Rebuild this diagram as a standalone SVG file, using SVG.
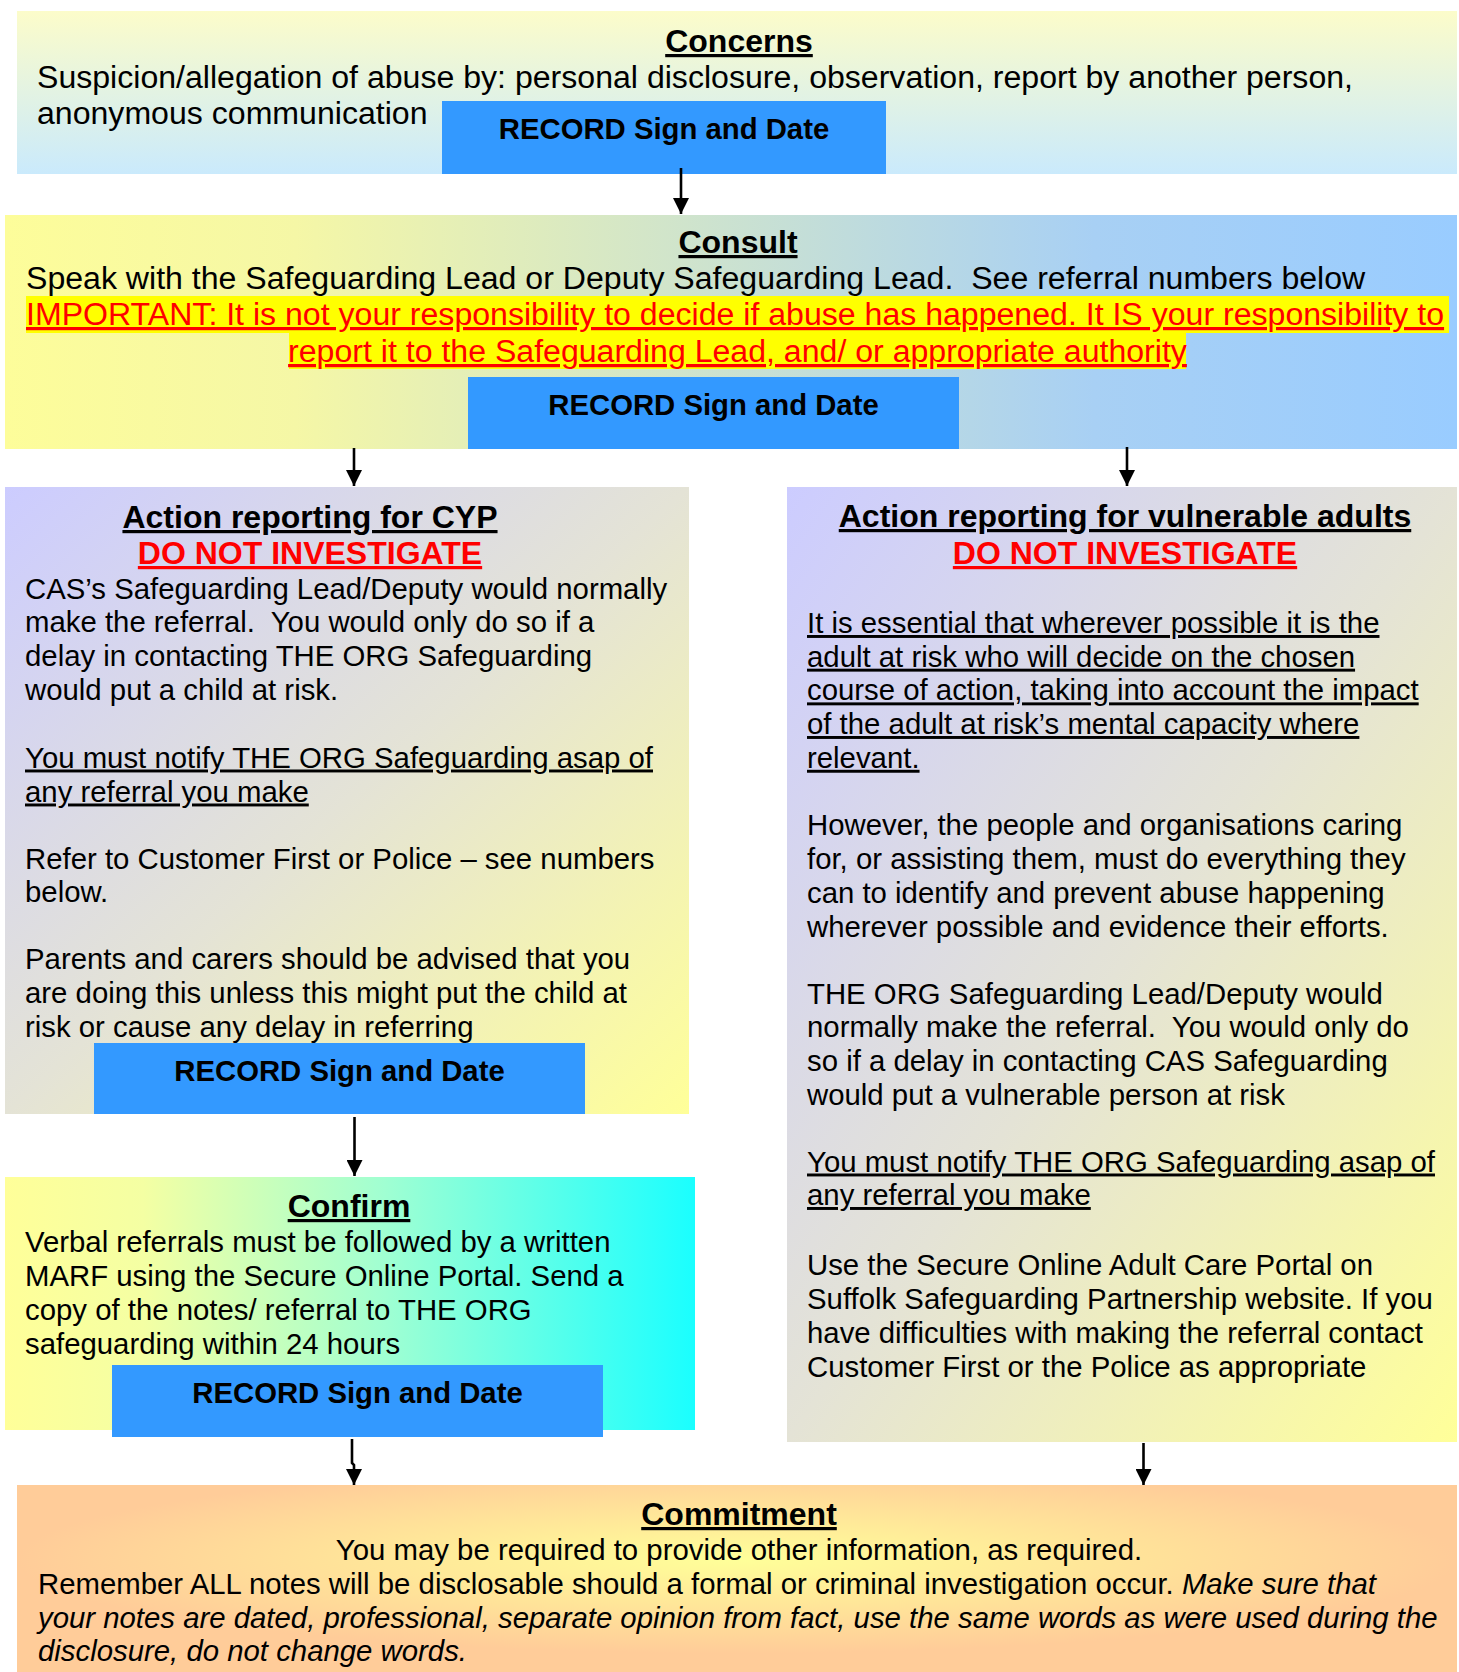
<svg xmlns="http://www.w3.org/2000/svg" width="1459" height="1672" viewBox="0 0 1459 1672">
<style>
text{font-family:"Liberation Sans",Arial,sans-serif;fill:#000}
.h{font-size:32px;font-weight:bold;text-decoration:underline}
.b32{font-size:32px;font-weight:bold}
.r32{font-size:32.1px}
.r29{font-size:29.35px}
.rec{font-size:29.3px;font-weight:bold}
.red{fill:#FF0000}
.u{text-decoration:underline}
.it{font-style:italic}
.recbox{fill:#3399FF}
.conn{stroke:#000;stroke-width:2.6;fill:none;marker-end:url(#ah)}
</style>
<defs>
<linearGradient id="gConcerns" x1="0" y1="0" x2="0" y2="1">
<stop offset="0" stop-color="#FCFCCA"/><stop offset="1" stop-color="#CAEAFC"/>
</linearGradient>
<linearGradient id="gConsult" x1="0" y1="0" x2="1" y2="0">
<stop offset="0" stop-color="#FDFD9A"/><stop offset="0.2" stop-color="#F5F7A6"/><stop offset="0.75" stop-color="#A8D0F4"/><stop offset="1" stop-color="#99CCFF"/>
</linearGradient>
<linearGradient id="gAction" x1="0" y1="0" x2="1" y2="1">
<stop offset="0" stop-color="#CCCCFF"/><stop offset="0.5" stop-color="#E4E3D6"/><stop offset="1" stop-color="#FFFF99"/>
</linearGradient>
<linearGradient id="gConfirm" x1="0" y1="0" x2="1" y2="0">
<stop offset="0" stop-color="#FFFF99"/><stop offset="0.2" stop-color="#F4FFA3"/><stop offset="0.55" stop-color="#A0FFD2"/><stop offset="1" stop-color="#1AFFFF"/>
</linearGradient>
<radialGradient id="gCommit" cx="0.5" cy="0.4" r="0.5">
<stop offset="0" stop-color="#FFFF99"/><stop offset="1" stop-color="#FFCC99"/>
</radialGradient>
<marker id="ah" markerUnits="userSpaceOnUse" markerWidth="16" markerHeight="16" viewBox="0 0 15 15" refX="15" refY="7.5" orient="auto">
<path d="M0,0 L15,7.5 L0,15 z" fill="#000"/>
</marker>
</defs>

<g id="concerns">
<rect x="17" y="11" width="1440" height="163" fill="url(#gConcerns)"/>
<text class="h" x="739" y="52" text-anchor="middle">Concerns</text>
<text class="r32" x="37" y="88">Suspicion/allegation of abuse by: personal disclosure, observation, report by another person,</text>
<text class="r32" x="37" y="124">anonymous communication</text>
<rect class="recbox" x="442" y="101" width="444" height="73"/>
<text class="rec" x="664" y="139" text-anchor="middle">RECORD Sign and Date</text>
</g>

<g id="consult">
<rect x="5" y="215" width="1452" height="234" fill="url(#gConsult)"/>
<text class="h" x="738" y="253" text-anchor="middle">Consult</text>
<text class="r32" x="26" y="289">Speak with the Safeguarding Lead or Deputy Safeguarding Lead.&#160; See referral numbers below</text>
<rect x="26" y="296" width="1423" height="37" fill="#FFFF00"/>
<rect x="289" y="333" width="897" height="36" fill="#FFFF00"/>
<text class="r32 red u" x="26" y="325">IMPORTANT: It is not your responsibility to decide if abuse has happened. It IS your responsibility to</text>
<text class="r32 red u" x="737.5" y="362" text-anchor="middle">report it to the Safeguarding Lead, and/ or appropriate authority</text>
<rect class="recbox" x="468" y="377" width="491" height="72"/>
<text class="rec" x="713.5" y="415" text-anchor="middle">RECORD Sign and Date</text>
</g>

<g id="cyp">
<rect x="5" y="487" width="684" height="627" fill="url(#gAction)"/>
<text class="h" x="310" y="528" text-anchor="middle">Action reporting for CYP</text>
<text class="b32 red u" x="310" y="564" text-anchor="middle">DO NOT INVESTIGATE</text>
<text class="r29" x="25" y="598.5">CAS’s Safeguarding Lead/Deputy would normally</text>
<text class="r29" x="25" y="632.2">make the referral.&#160; You would only do so if a</text>
<text class="r29" x="25" y="665.9">delay in contacting THE ORG Safeguarding</text>
<text class="r29" x="25" y="699.6">would put a child at risk.</text>
<text class="r29 u" x="25" y="767.5">You must notify THE ORG Safeguarding asap of</text>
<text class="r29 u" x="25" y="801.5">any referral you make</text>
<text class="r29" x="25" y="868.5">Refer to Customer First or Police – see numbers</text>
<text class="r29" x="25" y="902">below.</text>
<text class="r29" x="25" y="969">Parents and carers should be advised that you</text>
<text class="r29" x="25" y="1002.8">are doing this unless this might put the child at</text>
<text class="r29" x="25" y="1036.5">risk or cause any delay in referring</text>
<rect class="recbox" x="94" y="1043" width="491" height="71"/>
<text class="rec" x="339.5" y="1081" text-anchor="middle">RECORD Sign and Date</text>
</g>

<g id="adults">
<rect x="787" y="487" width="670" height="955" fill="url(#gAction)"/>
<text class="h" x="1125" y="527" text-anchor="middle">Action reporting for vulnerable adults</text>
<text class="b32 red u" x="1125" y="564" text-anchor="middle">DO NOT INVESTIGATE</text>
<text class="r29 u" x="807" y="633">It is essential that wherever possible it is the</text>
<text class="r29 u" x="807" y="666.7">adult at risk who will decide on the chosen</text>
<text class="r29 u" x="807" y="700.4">course of action, taking into account the impact</text>
<text class="r29 u" x="807" y="734">of the adult at risk’s mental capacity where</text>
<text class="r29 u" x="807" y="767.8">relevant.</text>
<text class="r29" x="807" y="835">However, the people and organisations caring</text>
<text class="r29" x="807" y="869">for, or assisting them, must do everything they</text>
<text class="r29" x="807" y="903">can to identify and prevent abuse happening</text>
<text class="r29" x="807" y="936.6">wherever possible and evidence their efforts.</text>
<text class="r29" x="807" y="1003.7">THE ORG Safeguarding Lead/Deputy would</text>
<text class="r29" x="807" y="1037.4">normally make the referral.&#160; You would only do</text>
<text class="r29" x="807" y="1071">so if a delay in contacting CAS Safeguarding</text>
<text class="r29" x="807" y="1104.8">would put a vulnerable person at risk</text>
<text class="r29 u" x="807" y="1171.5">You must notify THE ORG Safeguarding asap of</text>
<text class="r29 u" x="807" y="1205">any referral you make</text>
<text class="r29" x="807" y="1275">Use the Secure Online Adult Care Portal on</text>
<text class="r29" x="807" y="1309">Suffolk Safeguarding Partnership website. If you</text>
<text class="r29" x="807" y="1343">have difficulties with making the referral contact</text>
<text class="r29" x="807" y="1376.5">Customer First or the Police as appropriate</text>
</g>

<g id="confirm">
<rect x="5" y="1177" width="690" height="253" fill="url(#gConfirm)"/>
<text class="h" x="349" y="1217" text-anchor="middle">Confirm</text>
<text class="r29" x="25" y="1252">Verbal referrals must be followed by a written</text>
<text class="r29" x="25" y="1286">MARF using the Secure Online Portal. Send a</text>
<text class="r29" x="25" y="1320">copy of the notes/ referral to THE ORG</text>
<text class="r29" x="25" y="1354">safeguarding within 24 hours</text>
<rect class="recbox" x="112" y="1365" width="491" height="72"/>
<text class="rec" x="357.5" y="1403" text-anchor="middle">RECORD Sign and Date</text>
</g>

<g id="commitment">
<rect x="17" y="1485" width="1440" height="187" fill="url(#gCommit)"/>
<text class="h" x="739" y="1525" text-anchor="middle">Commitment</text>
<text class="r29" x="739" y="1560" text-anchor="middle">You may be required to provide other information, as required.</text>
<text class="r29" x="38" y="1594">Remember ALL notes will be disclosable should a formal or criminal investigation occur. <tspan class="it">Make sure that</tspan></text>
<text class="r29 it" x="38" y="1627.5">your notes are dated, professional, separate opinion from fact, use the same words as were used during the</text>
<text class="r29 it" x="38" y="1661">disclosure, do not change words.</text>
</g>

<g id="connectors">
<path class="conn" d="M681,168 L681,214"/>
<path class="conn" d="M354,448 L354,486"/>
<path class="conn" d="M1127,447 L1127,486"/>
<path class="conn" d="M354.5,1117 L354.5,1176"/>
<path class="conn" d="M352,1439 L352,1463 L354,1465 L354,1485"/>
<path class="conn" d="M1143.5,1443 L1143.5,1485"/>
</g>
</svg>
